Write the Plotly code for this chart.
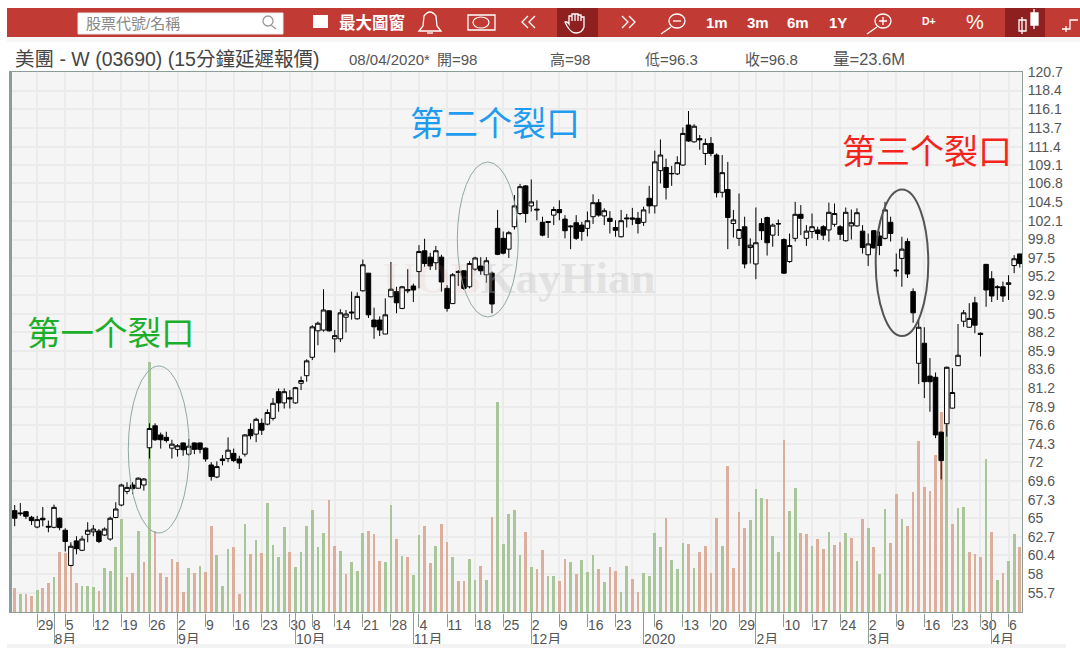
import re
import plotly.graph_objects as go

W, H = 1080, 659
PLOT_L, PLOT_R, PLOT_T, PLOT_B = 12, 1022, 72, 612

opens = [65.95,65.66,65.82,65.12,63.9,65.0,64.0,63.87,65.0,63.5,
 59.1,62.17,61,63,63.3,63.4,62.9,62.4,65.1,66.65,
 68.35,69.15,68.75,69.15,73.8,76.55,75.4,75.1,73.75,73.6,
 74.4,73,74.4,74.4,73.75,71.65,70.15,72.4,72.45,73.1,
 72.4,73,76.1,75.5,76.85,76.75,77.47,80.8,79.4,80.05,
 79.4,81.85,82.8,85.1,88.4,88.5,90.9,87.4,87.4,90.1,
 90.75,89.9,93.4,95.6,89.75,89.75,88,92.65,93.3,91.2,
 93.55,94,95.8,98.4,97.6,96.9,97.6,93.7,91.8,95.8,
 95.9,93.9,96.1,96.5,95.4,95.6,101.2,99.95,98.6,101.4,
 103.05,106.5,104,103.6,101.95,102.05,102.85,103.55,102.35,101.5,
 101.9,101.6,101.2,102.65,104.4,102.75,102.45,101.3,100.15,102.5,
 102.5,102.45,101.95,104.95,104,108.4,108.8,108,108,109.1,
 114.1,112,112.4,110.55,111.8,110.35,105.7,106.05,101.8,99.95,
 101.4,98.8,96.75,101.8,102.55,100.35,101.8,99.8,97.05,99.95,
 102.95,99.95,100.8,101,101.4,101,101.7,101.4,99.65,101.5,
 101.5,100.85,97.9,100.9,100.25,99.95,101.95,96,97.45,99.55,
 93.3,84.35,86.85,82.75,82.6,75.75,76.8,78.75,84.05,89.6,
 88.85,91.9,88.1,96.7,94.9,93.9,93.9,94.2,96.55,98]
highs = [66.65,66.9,65.9,65.3,65.3,66.4,64.7,66.7,65.1,63.75,
 62,62.75,62.8,64.5,64.15,63.65,63.85,65.2,67,69.3,
 69.5,69.5,70.1,70,76.85,76.85,75.7,75.8,74.8,74.25,
 74.45,74.9,74.45,74.45,73.85,72,72.1,72.9,75.1,73.7,
 72.8,75.5,76.85,77.55,77.45,78.6,80,81.2,81.2,81,
 81.4,82.7,84.85,89.1,89.55,93.6,91,88.5,91.1,91,
 93.3,93.2,97.3,95.6,91.3,90.2,92.45,97,93.9,94,
 96.1,94.3,99.1,99.9,98.15,99,97.9,94.1,95.6,96,
 96,97.1,97.65,97.6,97.6,95.8,103.5,100.8,100.85,105.35,
 106.75,106.6,107.3,104.7,102.65,102.1,103.9,104.7,102.85,101.6,
 102.85,102,103.3,105.45,104.85,103.7,103.35,102.2,103.5,103,
 103.75,103.25,103.9,106.5,110.9,112.3,109.9,109,110.2,113.8,
 115.85,114.2,112.85,112.4,112.6,110.55,110.35,109.5,103.5,105.55,
 102.65,99.95,103.8,102.45,102.65,101.8,102.3,99.95,100.55,104.5,
 104.1,101.6,103.05,101.4,101.6,104.4,104.3,101.6,103.8,103.55,
 103.7,101.6,100.55,101,100.8,104.5,102.65,98.05,100.15,99.95,
 93.7,89.75,88.85,85,83.2,75.8,83.95,83.75,89.25,91,
 91.85,92.65,88.2,96.75,95.85,94.1,94.55,95.35,97.85,98]
lows = [64.0,65.3,64.9,64.16,63.75,64.0,63.25,63.75,63.5,60.85,
 59,60.5,60.9,62,62.75,61.9,62.8,62.2,65,66.5,
 68,68,68.7,68.45,72.45,74.65,73.7,74.45,72.45,72.7,
 72.8,72.8,73,73.1,72.05,69.7,70,71.6,72,72,
 71.15,72.7,74.85,74.5,75.4,76.6,77.2,78.3,78.7,78.7,
 79.3,81,82.05,84.75,86.6,88.3,88.3,85.7,87,88.2,
 89.8,89.8,93.3,90,87.4,87.75,88,92.6,90.6,91.1,
 93.1,92,93.7,96.4,96,96,93.3,90.8,91.75,94,
 93.5,93.7,95.9,95.4,94.4,90.6,97.85,97.95,97.5,101.05,
 102.85,101.9,103.3,102.2,100.2,100,101.6,102.2,99.95,98.6,
 99.75,99.65,100.2,101.75,102.65,101.6,100.55,100.15,100.05,101.3,
 101.6,100.55,101.5,103.05,103.05,106.8,104.8,106.5,107.85,109,
 112,111.9,111,109.1,110.2,105.05,105.05,98.6,100.05,99,
 96.2,96.8,94.85,99.75,97.8,98.9,100.25,95.5,96.9,99.55,
 100.35,99,99.95,99.75,99.75,99.55,101.4,99.75,99.55,99.8,
 101.4,98.05,96.5,98.7,97.85,99.8,99.55,95.15,93.9,95,
 89.4,81.75,80,78.3,75,69.85,75.2,78.7,84,88.9,
 88.8,88.1,85.2,91.4,92,92.25,92,92.25,95.6,96.3]
closes = [65.0,65.57,65.24,64.7,64.83,64.8,63.9,66.36,63.83,62.1,
 61.5,61.2,62.4,63.5,63.65,62.1,63.65,65.0,66.15,69.15,
 68.85,68.7,70,69.9,76.2,74.8,74.8,74.7,74.25,74.05,
 73.55,74,73.6,73.6,72.4,70.2,71.45,72.2,73.5,72.2,
 71.9,75.4,75.3,77.35,76,78.2,79.35,79.4,80.8,79.9,
 81.3,82.2,84.65,88.9,89.35,91,88.4,87.8,90.65,90.5,
 90.65,92.7,96.65,90.4,88.9,88.5,90.4,93.6,91.9,93.9,
 93.4,93.5,98.3,96.8,96.5,98.4,94.5,91.2,95.4,95.7,
 93.7,96.8,97.5,95.9,97.15,91.75,97.95,98.1,100.65,104,
 106.4,103.05,104.5,103.5,100.35,101.95,103.55,103.15,100.9,101.4,
 99.95,100.8,102.15,104.4,102.85,103.4,102.05,100.95,102.15,102.4,
 102.35,101.8,103.5,104,109.5,110.35,106.3,108.05,109.4,113.05,
 112.1,113.95,112.25,111.8,110.55,105.65,108.15,102.55,102.25,101.05,
 96.75,99.1,99.4,100.9,99.4,101.6,101.75,95.6,99.05,102.95,
 102.45,100.85,101.4,100.55,100.35,103.2,103.05,100.45,103.2,101.9,
 103.15,98.8,99.25,98.75,99.05,103.5,100.55,95.9,98.6,95.5,
 90.65,88.85,82.05,82.05,75.4,72.2,83.85,80.7,85.35,90.65,
 89.95,89.1,87.95,93.5,92.75,93.8,92.75,94.4,97.4,96.8]

volumes = [8.8,6.7,6.4,5.7,8.1,8.6,10.4,12.6,21.7,21.4,
 24.8,10.4,9.3,9.6,9.0,7.7,15.9,14.8,23.5,33.6,
 12.6,14.0,29.4,18.2,90.6,29.3,14.0,12.6,19.1,18.0,
 7.4,15.9,14.0,16.6,14.4,31.1,20.6,9.3,22.7,23.5,
 6.7,31.8,20.9,26.0,21.3,39.4,24.2,19.8,30.7,21.7,
 16.2,21.7,31.1,36.9,23.5,28.6,40.7,24.0,22.0,13.7,
 18.3,14.8,28.7,29.4,28.3,18.4,18.0,38.8,26.4,20.2,
 19.8,13.3,28.0,31.2,17.8,24.0,31.9,25.4,19.8,11.1,
 11.4,19.1,11.5,16.6,11.5,34.5,76.2,24.7,35.6,37.0,
 20.6,29.0,16.2,15.5,22.4,12.9,12.9,11.1,19.1,18.0,
 13.7,18.8,14.4,20.6,15.5,10.8,16.2,14.8,7.4,16.6,
 11.9,7.4,14.0,12.9,28.7,23.5,34.1,18.8,15.5,24.9,
 24.6,15.9,21.7,24.0,14.0,34.1,24.0,53.1,15.9,36.3,
 30.5,33.4,44.6,41.4,41.0,27.5,21.7,62.3,36.7,45.0,
 28.6,28.2,24.0,26.4,22.7,28.9,24.2,25.4,28.6,26.7,
 18.4,33.8,30.4,23.5,13.7,37.4,24.9,42.8,33.8,31.1,
 43.6,62.0,45.4,43.9,57.1,72.6,67.8,31.9,37.8,38.1,
 21.7,20.9,19.8,55.7,28.9,11.7,14.0,18.4,28.2,23.6]
volume_side = list("RGRRGRRGRR" "RRGGGRGGGG" "RRGRGRRRRR" "RGRGRRGGGR" "RGRGRGGGGR" "GGGGGGRRGR" "GG"
                   "GRRRGGRGRG" "GRRGRRGRRG" "GRGRGGGGGR" "GRRGGRRGRG" "GGRGRRGGRR" "GGGGRGGGRG" "RRRR"
                   "GRRRRGGGRG" "GRGGRRGRRG" "RRGRGRGRGG" "RRGRRRRRRR" "GRGGRRRGRG" "RGGR")

week_idx = [4,9,14,19,24,29,34,39,44,49,53,57,62,67,72,77,82,87,92,97,102,107,
            114,119,124,129,137,142,147,152,157,162,167,172,177]
week_txt = ["29","5","12","19","26","2","9","16","23","30","8","14","21","28","4","11","18","25",
            "2","9","16","23","6","13","20","29","10","17","24","2","9","16","23","30","6"]
grid_extra = [110, 132]
month_idx = [7,29,50,71,92,112,132,152,174]
month_txt = ["8月","9月","10月","11月","12月","2020","2月","3月","4月"]
price_ticks = [120.7,118.4,116.1,113.7,111.4,109.1,106.8,104.5,102.1,99.8,97.5,95.2,92.9,90.5,88.2,
               85.9,83.6,81.2,78.9,76.6,74.3,72,69.6,67.3,65,62.7,60.4,58,55.7]

CJK = "Liberation Sans, Noto Sans CJK TC, sans-serif"
RED, DARK = "#c13a33", "#8e2020"
BAR_UP, BAR_DOWN = "#a9c69b", "#dcae9c"
FRAME = "#8c9c96"
GRID = "#ebebeb"
TXT = "#555555"

def fx(p): return p / W
def fy(p): return 1 - p / H
def path(cmd):
    parts = re.split(r"(-?\d+\.?\d*),(-?\d+\.?\d*)", cmd)
    out = ""
    for i, t in enumerate(parts):
        if i % 3 == 0: out += t
        elif i % 3 == 1: out += f"{fx(float(t)):.5f},"
        else: out += f"{fy(float(t)):.5f}"
    return out

shapes, notes = [], []
def rect(x0, y0, x1, y1, fill, layer="above", line=None, lw=0):
    shapes.append(dict(type="rect", xref="paper", yref="paper", x0=fx(x0), x1=fx(x1), y0=fy(y0), y1=fy(y1),
                       fillcolor=fill, line=dict(width=lw, color=line or fill), layer=layer))
def ell(x0, y0, x1, y1, color, lw):
    shapes.append(dict(type="circle", xref="paper", yref="paper", x0=fx(x0), x1=fx(x1), y0=fy(y0), y1=fy(y1),
                       line=dict(color=color, width=lw), layer="above"))
def stroke(cmd, color="#ffffff", lw=1.3, fill=None):
    shapes.append(dict(type="path", xref="paper", yref="paper", path=path(cmd),
                       line=dict(color=color, width=lw), fillcolor=fill, layer="above"))
def note(text, x, y, size, color=TXT, anchor="left", family=CJK):
    notes.append(dict(text=text, x=fx(x), y=fy(y), xref="paper", yref="paper", xanchor=anchor, yanchor="middle",
                      showarrow=False, font=dict(size=size, color=color, family=family)))

# toolbar
rect(7, 8, 1080, 37, RED)
rect(7, 37, 1080, 42, "#f6f6f6")
rect(7, 644, 1066, 648, "#f3f3f3")
rect(557, 8, 598, 37, DARK)
rect(1005, 8, 1045, 37, DARK)
shapes.append(dict(type="rect", xref="paper", yref="paper", x0=fx(78), x1=fx(283), y0=fy(13), y1=fy(34),
                   fillcolor="#ffffff", line=dict(width=1, color="#e8e8e8"), layer="above"))
note("股票代號/名稱", 84, 24, 15, "#888888")
ell(263, 16, 273, 26, "#999999", 1.3)
stroke("M271,25 L276,29", "#999999", 1.3)
rect(313, 15, 328, 28, "#ffffff")
note("<b>最大圖窗</b>", 337, 23, 16.5, "#ffffff")
stroke("M419,31 L441,31 L437,26 L436,16 Q430,8 424,16 L423,26 Z")
stroke("M427,33 L433,33")
stroke("M468,15 L495,15 L495,30 L468,30 Z")
ell(473, 17, 489, 28, "#ffffff", 1.2)
for ox in (0, 7):
    stroke(f"M{528+ox},16 L{522+ox},22 L{528+ox},28")
    stroke(f"M{622+ox},16 L{628+ox},22 L{622+ox},28")
stroke("M569,22 L569,16 L572,16 L572,21 L572,14 L575,14 L575,21 L575,14 L578,14 L578,21 L578,15 L581,15 L581,21 "
       "L581,17 L584,17 L584,27 Q582,33 576,33 Q571,33 567,26 L565,22 Q567,21 569,24 Z", lw=1.3)
ell(669, 14, 685, 28, "#ffffff", 1.3)
stroke("M671,27 L661,34")
stroke("M673,21 L681,21")
ell(875, 14, 891, 28, "#ffffff", 1.3)
stroke("M877,27 L867,34")
stroke("M879,21 L887,21 M883,17 L883,25")
for label, x in (("1m", 717), ("3m", 758), ("6m", 798), ("1Y", 838)):
    note(f"<b>{label}</b>", x, 23, 15, "#ffffff", "center")
note("<b>D+</b>", 929, 21, 10.5, "#ffffff", "center")
note("%", 975, 22, 20, "#ffffff", "center")
stroke("M1019,20 L1026,20 L1026,31 L1019,31 Z M1022,17 L1022,34")
stroke("M1031,13 L1038,13 L1038,25 L1031,25 Z M1034,9 L1034,29", fill="#ffffff")
stroke("M1062,29 L1070,29 L1070,20 L1078,20 M1066,26 L1066,32")

# header line
note("美團 - W (03690) (15分鐘延遲報價)", 13, 59, 19.5, "#444444")
note("08/04/2020*", 347, 59, 15)
for text, x, size in (("開=98", 435, 15), ("高=98", 548, 15), ("低=96.3", 643, 15), ("收=96.8", 743, 15), ("量=23.6M", 831, 16.5)):
    note(text, x, 59, size)

# watermark, callout rings and callout captions
note('<b><span style="color:rgba(225,160,150,0.4)">UOB</span>KayHian</b>', 381, 278, 45,
     "rgba(190,190,190,0.35)", family="Liberation Serif")
ell(128.3, 366, 189.3, 533, "#8fa8a5", 1)
ell(457.3, 162, 518.3, 317, "#8fa8a5", 1)
ell(875.7, 189.5, 928.3, 336, "#555555", 2)
note("第一个裂口", 25, 330, 33.5, "#1baf2b", family="Noto Sans CJK SC")
note("第二个裂口", 408, 121, 34, "#1f9cf0", family="Noto Sans CJK SC")
note("第三个裂口", 840, 150, 34, "#f4241c", family="Noto Sans CJK SC")

x = list(range(len(opens)))
x_range = [(PLOT_L - 14.7) / 5.615, (PLOT_R - 14.7) / 5.615]
PX_PER_UNIT = (592.7 - 71.7) / 65
price_range = [55.7 - (PLOT_B - 592.7) / PX_PER_UNIT, 120.72]

fig = go.Figure()
fig.add_bar(x=x, y=volumes, width=0.48, marker=dict(color=[BAR_UP if s == "G" else BAR_DOWN for s in volume_side], line_width=0),
            xaxis="x", yaxis="y", showlegend=False, hoverinfo="skip")
fig.add_candlestick(x=x, open=opens, high=highs, low=lows, close=closes, xaxis="x", yaxis="y2", whiskerwidth=0,
                    increasing=dict(line=dict(color="#000000", width=1), fillcolor="#ffffff"),
                    decreasing=dict(line=dict(color="#000000", width=1), fillcolor="#000000"), showlegend=False)
# second lower axis carries the month row
fig.add_scatter(x=[0], y=[0], xaxis="x2", yaxis="y", mode="markers", marker_opacity=0, showlegend=False, hoverinfo="skip")

grid_vals = week_idx + grid_extra
grid_text = week_txt + [""] * len(grid_extra)
tick_font = dict(size=14, color=TXT, family=CJK)
dom_x = [PLOT_L / W, PLOT_R / W]
dom_y = [1 - PLOT_B / H, 1 - PLOT_T / H]
fig.update_layout(
    width=W, height=H, margin=dict(l=0, r=0, t=0, b=0, autoexpand=False), paper_bgcolor="#ffffff", plot_bgcolor="#f5f5f5",
    bargap=0, boxgap=0.2, boxgroupgap=0, font=dict(family=CJK), hovermode=False,
    xaxis=dict(domain=dom_x, range=x_range, tickmode="array", tickvals=grid_vals, ticktext=grid_text, automargin=False,
               showgrid=True, gridcolor=GRID, gridwidth=1.5, ticks="outside", ticklen=1, tickcolor="#f5f5f5", tickwidth=0,
               ticklabelposition="outside right", tickfont=tick_font, showline=True, linecolor=FRAME, linewidth=1,
               mirror=True, rangeslider=dict(visible=False), zeroline=False, tickangle=0,
               minor=dict(tickmode="array", tickvals=week_idx, ticks="outside", ticklen=14, tickcolor=FRAME, tickwidth=1, showgrid=False)),
    xaxis2=dict(domain=dom_x, range=x_range, overlaying="x", anchor="y", side="bottom", tickmode="array", tickvals=month_idx,
                ticktext=month_txt, showgrid=False, ticks="outside", ticklen=1, tickcolor="rgba(0,0,0,0)", tickwidth=1, automargin=False,
                ticklabelposition="outside right", ticklabelstandoff=14, tickfont=tick_font, zeroline=False, tickangle=0, showline=False,
                minor=dict(tickmode="array", tickvals=month_idx, ticks="outside", ticklen=31, tickcolor=FRAME, tickwidth=1, showgrid=False)),
    yaxis=dict(domain=dom_y, range=[0, (PLOT_B - PLOT_T) * 0.363], showticklabels=False, ticks="", showgrid=False, zeroline=False,
               showline=True, linecolor=FRAME, linewidth=2.5, automargin=False),
    yaxis2=dict(domain=dom_y, range=price_range, overlaying="y", side="right", anchor="x", tickmode="array", tickvals=price_ticks,
                ticktext=[str(v) for v in price_ticks], tickfont=tick_font, showgrid=True, gridcolor=GRID, gridwidth=1.5, ticks="",
                ticklabelstandoff=2, zeroline=False, showline=True, linecolor=FRAME, linewidth=1, automargin=False),
    shapes=shapes, annotations=notes,
)
fig.write_html("out.html", config=dict(displayModeBar=False),
               post_script="document.body.style.margin='0';document.body.style.background='#fff';")
